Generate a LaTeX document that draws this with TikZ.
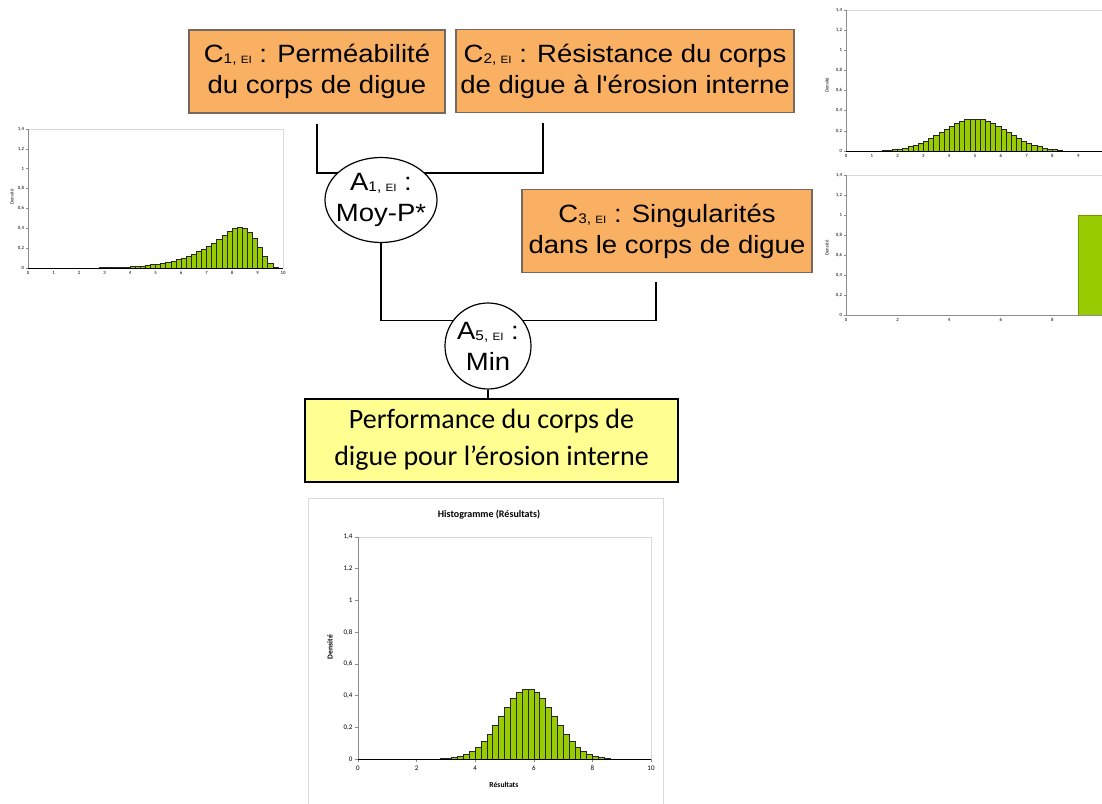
\documentclass[tikz,border=0pt]{standalone}
\usepackage{fontspec}
\newfontfamily\arial{Liberation Sans}[FakeStretch=1.1]
\newfontfamily\calibri{Carlito}
\usetikzlibrary{positioning,shapes.geometric,backgrounds}
\definecolor{critOrange}{RGB}{250,176,98}
\definecolor{critBorder}{RGB}{118,104,92}
\definecolor{perfYellow}{RGB}{255,255,145}
\definecolor{barGreen}{RGB}{153,204,0}
\definecolor{gridGray}{RGB}{217,217,217}
\definecolor{axisGray}{RGB}{140,140,140}
\newcommand{\idx}[2]{\raisebox{-0.6pt}{\fontsize{7}{7}\selectfont #1, \fontsize{5.3}{5}\selectfont #2}}

\begin{document}
\begin{tikzpicture}[x=0.5pt, y=-0.5pt,
    crit/.style={draw=critBorder, line width=0.6pt, fill=critOrange, align=center,
      inner sep=0pt, font=\arial\fontsize{12.5}{15.5}\selectfont, minimum height=41.5pt},
    agg/.style={ellipse, draw=black, line width=0.6pt, fill=white, align=center,
      inner sep=-5pt, font=\arial\fontsize{12.5}{15.5}\selectfont},
    perfbox/.style={draw=black, line width=1pt, fill=perfYellow, align=center, inner sep=0pt,
      font=\calibri\fontsize{14}{18.5}\selectfont, minimum width=186.5pt, minimum height=41.5pt},
    link/.style={line width=0.8pt},
    histbar/.style={draw=black!85, line width=0.3pt, fill=barGreen},
    plotaxis/.style={draw=axisGray, line width=0.3pt},
    plotframe/.style={draw=gridGray, line width=0.3pt},
    ticklbl/.style={font=\calibri\fontsize{2.4}{3}\selectfont, inner sep=0.5pt},
    ticklbig/.style={font=\calibri\fontsize{3.5}{4}\selectfont, inner sep=0.8pt}
  ]
  \useasboundingbox (0,0) rectangle (1102,803);
  \clip (0,0) rectangle (1102,803);

  % criteria
  \node[crit, minimum width=128pt] (c1) at (317,71.5) {C\idx{1}{EI} : Perméabilité\\du corps de digue};
  \node[crit, minimum width=169pt] (c2) at (625,71) {C\idx{2}{EI} : Résistance du corps\\de digue à l'érosion interne};
  \node[crit, minimum width=145pt] (c3) at (667,231) {C\idx{3}{EI} : Singularités\\dans le corps de digue};

  % aggregation operators
  \node[agg, minimum width=56pt, minimum height=42.5pt] (a1) at (381,200) {A\idx{1}{EI} :\\Moy-P*};
  \node[agg, minimum width=43pt, minimum height=43pt] (a5) at (488,346) {A\idx{5}{EI} :\\Min};

  % result
  \node[perfbox] (perf) at (491.5,440) {Performance du corps de\\digue pour l’érosion interne};

  \begin{scope}[on background layer]
    \draw[link] ([yshift=-5pt]c1.south) |- ([yshift=-8pt]a1.north) -| ([xshift=-41pt,yshift=-5pt]c2.south);
    \draw[link] (a1.south) |- ([yshift=-9pt]a5.north) -| ([xshift=-5.5pt,yshift=-4.5pt]c3.south);
    \draw[link] (a5.south) -- (a5.south |- perf.north);
  \end{scope}

  % histogram of C1 (left)
  \begin{scope}[shift={(28,268)}, x=12.75pt, y=49.65pt]
    \draw[plotframe] (0,1.4) -- (10,1.4) -- (10,0);
    \draw[plotaxis] (0,0) -- (0,1.4);
    \foreach \v/\t [count=\i] in {0/0,0.2/{0,2},0.4/{0,4},0.6/{0,6},0.8/{0,8},1/1,1.2/{1,2},1.4/{1,4}} {
      \draw[plotaxis] (0,\v) -- ++(-1pt,0);
      \node[ticklbl, left] (ya\i) at (-0.1,\v) {\t};
    }
    \foreach \u [count=\i] in {0,...,10}
      \node[ticklbl, below] (xa\i) at (\u,-0.02) {\u};
    \foreach \x/\h in {2.8/0.003,3.0/0.004,3.2/0.005,3.4/0.006,3.6/0.008,3.8/0.01,4.0/0.013,
        4.2/0.016,4.4/0.02,4.6/0.026,4.8/0.033,5.0/0.04,5.2/0.05,5.4/0.06,5.6/0.072,5.8/0.086,
        6.0/0.1,6.2/0.12,6.4/0.14,6.6/0.165,6.8/0.19,7.0/0.22,7.2/0.25,7.4/0.29,7.6/0.33,
        7.8/0.37,8.0/0.4,8.2/0.41,8.4/0.4,8.6/0.36,8.8/0.3,9.0/0.21,9.2/0.12,9.4/0.05,9.6/0.01}
      \draw[histbar] (\x,0) rectangle ++(0.2,\h);
    \draw[black, line width=0.3pt] (0,0) -- (10,0);
    \node[ticklbl, rotate=90] (ylaba) at (-0.63,0.715) {Densité};
  \end{scope}

  % histogram of C2 (top right)
  \begin{scope}[shift={(846,151)}, x=12.9pt, y=50.35pt]
    \draw[plotframe] (0,1.4) -- (10.5,1.4);
    \draw[plotaxis] (0,0) -- (0,1.4);
    \foreach \v/\t [count=\i] in {0/0,0.2/{0,2},0.4/{0,4},0.6/{0,6},0.8/{0,8},1/1,1.2/{1,2},1.4/{1,4}} {
      \draw[plotaxis] (0,\v) -- ++(-1pt,0);
      \node[ticklbl, left] (yb\i) at (-0.1,\v) {\t};
    }
    \foreach \u [count=\i] in {0,...,9}
      \node[ticklbl, below] (xb\i) at (\u,-0.02) {\u};
    \foreach \x in {1.4,1.6,...,8.4} {
      \pgfmathsetmacro\h{exp(-((\x+0.1-5)^2)/3.125)/3.133}
      \draw[histbar] (\x,0) rectangle ++(0.2,\h);
    }
    \draw[black, line width=0.3pt] (0,0) -- (10.5,0);
    \node[ticklbl, rotate=90] (ylabb) at (-0.74,0.655) {Densité};
  \end{scope}

  % histogram of C3 (lower right)
  \begin{scope}[shift={(846,315)}, x=12.9pt, y=50pt]
    \draw[plotframe] (0,1.4) -- (10.5,1.4);
    \draw[plotaxis] (0,0) -- (0,1.4);
    \foreach \v/\t [count=\i] in {0/0,0.2/{0,2},0.4/{0,4},0.6/{0,6},0.8/{0,8},1/1,1.2/{1,2},1.4/{1,4}} {
      \draw[plotaxis] (0,\v) -- ++(-1pt,0);
      \node[ticklbl, left] (yc\i) at (-0.1,\v) {\t};
    }
    \foreach \u [count=\i] in {0,2,...,8}
      \node[ticklbl, below] (xc\i) at (\u,-0.02) {\u};
    \draw[histbar, draw=barGreen!75!black] (9,0) rectangle (10.5,1);
    \draw[plotaxis] (0,0) -- (10.5,0);
    \node[ticklbl, rotate=90] (ylabc) at (-0.74,0.67) {Densité};
  \end{scope}

  % histogram of the result (bottom)
  \draw[plotframe] (308,498) rectangle (663,810);
  \node[font=\calibri\bfseries\fontsize{5}{6}\selectfont] (htitle) at (489,515) {Histogramme (Résultats)};
  \begin{scope}[shift={(358,759)}, x=14.65pt, y=79.3pt]
    \draw[plotframe] (0,1.4) -- (10,1.4) -- (10,0);
    \draw[plotaxis] (0,0) -- (0,1.4);
    \foreach \v/\t [count=\i] in {0/0,0.2/{0,2},0.4/{0,4},0.6/{0,6},0.8/{0,8},1/1,1.2/{1,2},1.4/{1,4}} {
      \draw[plotaxis] (0,\v) -- ++(-1.5pt,0);
      \node[ticklbig, left] (yd\i) at (-0.12,\v) {\t};
    }
    \foreach \u [count=\i] in {0,2,...,10} {
      \draw[plotaxis] (\u,0) -- ++(0,-1.5pt);
      \node[ticklbig, below] (xd\i) at (\u,-0.03) {\u};
    }
    \foreach \x in {2.8,3.0,...,8.4} {
      \pgfmathsetmacro\h{exp(-((\x+0.1-5.8)^2)/1.62)/2.256}
      \draw[histbar] (\x,0) rectangle ++(0.2,\h);
    }
    \draw[black, line width=0.4pt] (0,0) -- (10,0);
    \node[font=\calibri\bfseries\fontsize{3.8}{4}\selectfont] (xlabd) at (4.98,-0.164) {Résultats};
    \node[font=\calibri\bfseries\fontsize{3.8}{4}\selectfont, rotate=90] (ylabd) at (-0.96,0.706) {Densité};
  \end{scope}
\end{tikzpicture}
\end{document}
